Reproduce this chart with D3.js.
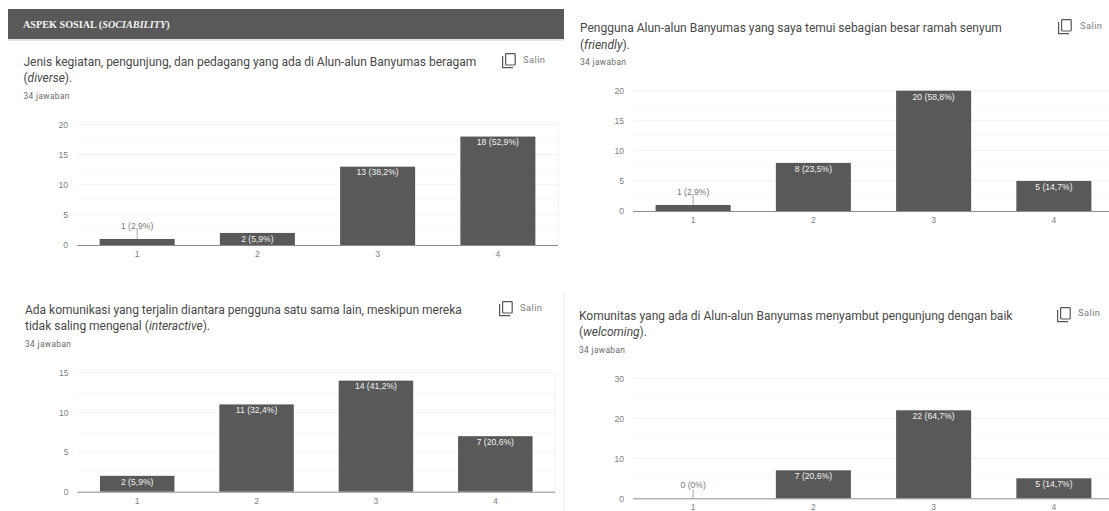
<!DOCTYPE html>
<html>
<head>
<meta charset="utf-8">
<script src="https://cdn.jsdelivr.net/npm/d3@7/dist/d3.min.js"></script>
<style>
  html, body { margin: 0; padding: 0; background: #fff; overflow: hidden; }
  svg { display: block; }
  text { font-family: "Liberation Sans", Arial, sans-serif; }
  .question { font-family: Roboto, sans-serif; font-size: 12px; fill: #484848; }
  .answers { font-family: Roboto, sans-serif; font-size: 8.4px; fill: #6a6a6a; letter-spacing: 0.35px; }
  .copy { font-family: Roboto, sans-serif; font-size: 9.4px; fill: #7d7d7d; letter-spacing: 0.4px; }
  .tick text { font-size: 8.6px; fill: #808080; }
  .value { font-size: 8.6px; text-anchor: middle; }
</style>
</head>
<body>
<svg id="board" width="1109" height="511"></svg>
<script>
// Response scale and survey results for the sociability section
const categories = ["1", "2", "3", "4"];

const diverseValues = [1, 2, 13, 18];
const diverseLabels = ["1 (2,9%)", "2 (5,9%)", "13 (38,2%)", "18 (52,9%)"];
const diverseTicks = [0, 5, 10, 15, 20];

const friendlyValues = [1, 8, 20, 5];
const friendlyLabels = ["1 (2,9%)", "8 (23,5%)", "20 (58,8%)", "5 (14,7%)"];
const friendlyTicks = [0, 5, 10, 15, 20];

const interactiveValues = [2, 11, 14, 7];
const interactiveLabels = ["2 (5,9%)", "11 (32,4%)", "14 (41,2%)", "7 (20,6%)"];
const interactiveTicks = [0, 5, 10, 15];

const welcomingValues = [0, 7, 22, 5];
const welcomingLabels = ["0 (0%)", "7 (20,6%)", "22 (64,7%)", "5 (14,7%)"];
const welcomingTicks = [0, 10, 20, 30];

const sectionTitle = ["ASPEK SOSIAL (", "SOCIABILITY", ")"];
const italicTerms = ["diverse", "friendly", "interactive", "welcoming"];
const answerCount = "34 jawaban";
const copyLabel = "Salin";

const svg = d3.select("#board");
const DARK = "#595959";

// Section banner with its soft lower edge
svg.append("rect").attr("x", 8).attr("y", 39).attr("width", 556).attr("height", 2).attr("fill", "#e4e4e4");
svg.append("rect").attr("x", 8).attr("y", 9).attr("width", 556).attr("height", 30).attr("fill", DARK);
const banner = svg.append("text").attr("x", 23).attr("y", 28)
  .style("font-family", '"Liberation Serif", serif').style("font-size", "10.2px")
  .style("font-weight", "bold").attr("fill", "#f4f4f4");
sectionTitle.forEach((part, i) => banner.append("tspan").text(part).style("font-style", i === 1 ? "italic" : "normal"));

// Divider between the two lower questions
svg.append("line").attr("x1", 564).attr("x2", 564).attr("y1", 292).attr("y2", 511).attr("stroke", "#ececec");

const panels = [
  { values: diverseValues, labels: diverseLabels, ticks: diverseTicks,
    lines: [["Jenis kegiatan, pengunjung, dan pedagang yang ada di Alun-alun Banyumas beragam"], ["(", "diverse", ")."]],
    textX: 23.5, lineY: [66, 82], countY: 99, copyX: 523, copyY: 63, iconX: 502, iconY: 53,
    left: 77, right: 558, top: 124.5, bottom: 245 },
  { values: friendlyValues, labels: friendlyLabels, ticks: friendlyTicks,
    lines: [["Pengguna Alun-alun Banyumas yang saya temui sebagian besar ramah senyum"], ["(", "friendly", ")."]],
    textX: 580, lineY: [32, 49], countY: 65, copyX: 1080, copyY: 29, iconX: 1058, iconY: 19,
    left: 633, right: 1114, top: 90.7, bottom: 211 },
  { values: interactiveValues, labels: interactiveLabels, ticks: interactiveTicks,
    lines: [["Ada komunikasi yang terjalin diantara pengguna satu sama lain, meskipun mereka"], ["tidak saling mengenal (", "interactive", ")."]],
    textX: 25, lineY: [314, 330], countY: 347, copyX: 520, copyY: 311, iconX: 499, iconY: 301,
    left: 77.5, right: 555, top: 372.7, bottom: 491.7 },
  { values: welcomingValues, labels: welcomingLabels, ticks: welcomingTicks,
    lines: [["Komunitas yang ada di Alun-alun Banyumas menyambut pengunjung dengan baik"], ["(", "welcoming", ")."]],
    textX: 579, lineY: [320, 336], countY: 353, copyX: 1078, copyY: 316, iconX: 1057, iconY: 307,
    left: 633, right: 1114, top: 378.3, bottom: 498.3 }
];

function drawHeading(p) {
  p.lines.forEach((parts, row) => {
    const line = svg.append("text").attr("class", "question").attr("x", p.textX).attr("y", p.lineY[row]);
    parts.forEach(part => line.append("tspan").text(part)
      .style("font-style", italicTerms.includes(part) ? "italic" : "normal"));
  });
  svg.append("text").attr("class", "answers").attr("x", p.textX).attr("y", p.countY).text(answerCount);
  svg.append("text").attr("class", "copy").attr("x", p.copyX).attr("y", p.copyY).text(copyLabel);

  // Copy icon: front sheet plus the corner of the sheet behind it
  const icon = svg.append("g").attr("transform", `translate(${p.iconX},${p.iconY})`)
    .attr("fill", "none").attr("stroke", "#555").attr("stroke-width", 1.2);
  icon.append("rect").attr("x", 3.6).attr("y", 0.6).attr("width", 9.6).attr("height", 11.4).attr("rx", 0.8);
  icon.append("path").attr("d", d3.line()([[0.6, 3], [0.6, 14.6], [11, 14.6]]));
}

function drawChart(p) {
  const x = d3.scaleBand().domain(categories).range([p.left, p.right]).paddingInner(0.376).paddingOuter(0.188);
  const y = d3.scaleLinear().domain([0, d3.max(p.ticks)]).range([p.bottom, p.top]);
  const g = svg.append("g");

  // Major gridlines on the ticks, fainter minor ones halfway between
  const step = p.ticks[1] - p.ticks[0];
  const minor = p.ticks.slice(1).map(t => t - step / 2);
  g.selectAll("line.minor").data(minor).join("line").attr("class", "minor")
    .attr("x1", p.left).attr("x2", p.right)
    .attr("y1", d => y(d)).attr("y2", d => y(d)).attr("stroke", "#f9f9f9");
  g.selectAll("line.major").data(p.ticks.slice(1)).join("line").attr("class", "major")
    .attr("x1", p.left).attr("x2", p.right)
    .attr("y1", d => y(d)).attr("y2", d => y(d)).attr("stroke", "#f2f2f2");
  g.append("line").attr("x1", p.right).attr("x2", p.right)
    .attr("y1", p.top).attr("y2", p.bottom).attr("stroke", "#f2f2f2");

  const yAxis = d3.axisLeft(y).tickValues(p.ticks).tickSize(0).tickPadding(9);
  g.append("g").attr("transform", `translate(${p.left},0)`).call(yAxis).call(a => a.select(".domain").remove());

  const xAxis = d3.axisBottom(x).tickSize(0).tickPadding(6);
  g.append("g").attr("transform", `translate(0,${p.bottom})`).call(xAxis).call(a => a.select(".domain").remove());

  const rows = p.values.map((v, i) => ({ key: categories[i], value: v, label: p.labels[i] }));
  g.selectAll("rect.bar").data(rows).join("rect").attr("class", "bar")
    .attr("x", d => x(d.key)).attr("width", x.bandwidth())
    .attr("y", d => y(d.value)).attr("height", d => y(0) - y(d.value))
    .attr("fill", DARK);

  g.append("line").attr("x1", p.left).attr("x2", p.right)
    .attr("y1", p.bottom + 0.5).attr("y2", p.bottom + 0.5).attr("stroke", "#8c8c8c");

  // Short bars carry their label above on a leader line; others inside in white
  const roomy = d => y(0) - y(d.value) >= 10;
  g.selectAll("line.leader").data(rows.filter(d => !roomy(d))).join("line").attr("class", "leader")
    .attr("x1", d => x(d.key) + x.bandwidth() / 2).attr("x2", d => x(d.key) + x.bandwidth() / 2)
    .attr("y1", d => y(d.value)).attr("y2", d => y(d.value) - 9).attr("stroke", "#a8a8a8");
  g.selectAll("text.value").data(rows).join("text").attr("class", "value")
    .attr("x", d => x(d.key) + x.bandwidth() / 2)
    .attr("y", d => roomy(d) ? y(d.value) + 8.8 : y(d.value) - 10)
    .attr("fill", d => roomy(d) ? "#f2f2f2" : "#777")
    .text(d => d.label);
}

panels.forEach(p => { drawHeading(p); drawChart(p); });
</script>
</body>
</html>
